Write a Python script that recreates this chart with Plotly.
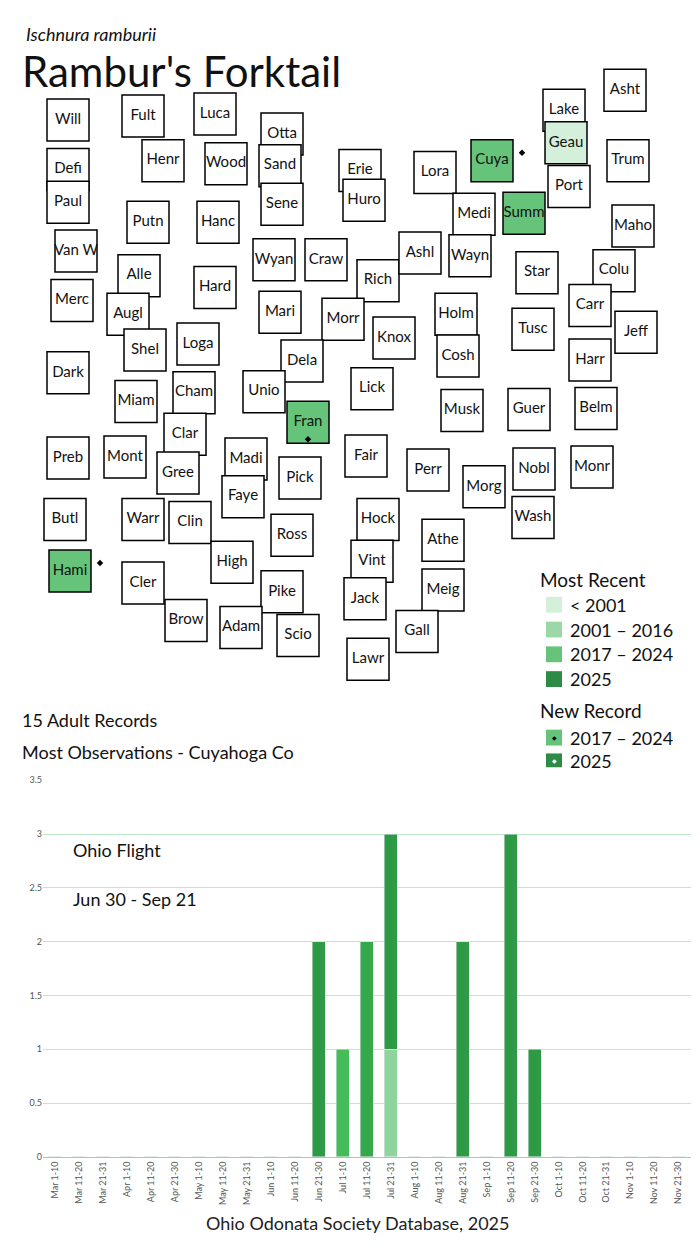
import plotly.graph_objects as go

# ---- map data (approximate tile-map positions of Ohio counties) ----
counties = ["Will","Fult","Luca","Otta","Defi","Henr","Wood","Sand","Erie","Lora","Cuya","Lake","Asht","Geau","Trum",
 "Paul","Putn","Hanc","Sene","Huro","Medi","Summ","Port","Maho","Van W","Alle","Hard","Wyan","Craw","Rich","Ashl","Wayn",
 "Star","Colu","Merc","Augl","Mari","Morr","Knox","Holm","Tusc","Carr","Jeff","Shel","Loga","Dela","Cosh","Harr","Dark",
 "Cham","Unio","Lick","Musk","Guer","Belm","Miam","Clar","Fran","Madi","Fair","Perr","Nobl","Monr","Preb","Mont","Gree",
 "Faye","Pick","Morg","Butl","Warr","Clin","Hock","Wash","Ross","Athe","Hami","Cler","High","Vint","Meig","Pike","Jack",
 "Brow","Adam","Scio","Gall","Lawr"]
cx = [60,135,207,274,60,155,218,272,352,427,484,556,617,558,620,60,140,210,274,356,466,516,561,625,68,131,207,266,318,370,412,462,
 529,606,64,120,272,335,386,448,525,582,628,137,190,294,450,582,60,186,256,364,454,521,588,128,177,300,238,358,420,526,584,60,117,170,
 235,292,476,57,135,182,370,525,284,435,62,135,224,364,435,274,357,178,233,290,409,360]
cy = [117,113,111,131,167,158,161,163,168,170,158,107,87,140,158,200,220,220,202,198,212,211,184,224,249,274,286,258,258,279,251,254,
 271,269,299,313,311,318,337,313,328,304,331,349,343,360,355,359,372,392,391,388,410,409,408,401,434,422,459,456,470,469,467,458,457,473,
 497,478,487,520,520,523,520,518,536,541,572,584,563,562,591,593,600,622,629,637,633,661]
most_recent = {"Geau": "< 2001", "Cuya": "2017 – 2024", "Summ": "2017 – 2024", "Fran": "2017 – 2024", "Hami": "2017 – 2024"}
new_record = ["Cuya", "Fran", "Hami"]
period_colors = {"< 2001": "#d4f0da", "2001 – 2016": "#9ad9a6", "2017 – 2024": "#66c47a", "2025": "#2e8b45"}

# ---- flight data ----
periods = ["Mar 1-10","Mar 11-20","Mar 21-31","Apr 1-10","Apr 11-20","Apr 21-30","May 1-10","May 11-20","May 21-31",
 "Jun 1-10","Jun 11-20","Jun 21-30","Jul 1-10","Jul 11-20","Jul 21-31","Aug 1-10","Aug 11-20","Aug 21-31",
 "Sep 1-10","Sep 11-20","Sep 21-30","Oct 1-10","Oct 11-20","Oct 21-31","Nov 1-10","Nov 11-20","Nov 21-30"]
older = [0,0,0,0,0,0,0,0,0,0,0,0,0,0,1,0,0,0,0,0,0,0,0,0,0,0,0]
recent = [0,0,0,0,0,0,0,0,0,0,0,2,1,2,2,0,0,2,0,3,1,0,0,0,0,0,0]
recent_colors = ["#2f9a46"]*27
recent_colors[12] = "#45bb5a"; recent_colors[13] = "#36a84c"

FONT = "Lato"
OFF = 10  # map drawn 10px higher than the overlay text coordinates
fig = go.Figure()

fills = [period_colors[most_recent[c]] if c in most_recent else "white" for c in counties]
fig.add_trace(go.Scatter(x=cx, y=cy, mode="markers+text", text=counties, textfont=dict(family=FONT, size=15, color="#111"),
    marker=dict(symbol="square", size=42, color=fills, line=dict(color="black", width=1.5)),
    xaxis="x2", yaxis="y2", hoverinfo="text", showlegend=False))
fig.add_trace(go.Scatter(x=[cx[counties.index(c)] + (30 if c != "Fran" else 0) for c in new_record],
    y=[cy[counties.index(c)] + (-8 if c != "Fran" else 17) for c in new_record], mode="markers",
    marker=dict(symbol="diamond", size=5, color="black"), xaxis="x2", yaxis="y2", showlegend=False, hoverinfo="skip"))

fig.add_trace(go.Bar(x=periods, y=older, marker_color="#8fd49c", showlegend=False))
fig.add_trace(go.Bar(x=periods, y=recent, marker_color=recent_colors, showlegend=False))

shapes, ann = [], []
def txt(x, y, s, size, **kw):
    ann.append(dict(x=x, y=y+OFF, xref="x2", yref="y2", text=s, showarrow=False, xanchor=kw.pop("xanchor", "left"),
                    font=dict(family=FONT, size=size, color=kw.pop("color", "#111")), **kw))
txt(16, 20, "<i>Ischnura ramburii</i>", 18)
txt(12, 58, "Rambur's Forktail", 42)
txt(530, 571, "Most Recent", 19)
for i, (k, col) in enumerate(period_colors.items()):
    y = 596 + i*25
    shapes.append(dict(type="rect", xref="x2", yref="y2", x0=538, x1=554, y0=y-8+OFF, y1=y+8+OFF, fillcolor=col, line_width=0))
    txt(560, y, k, 18)
txt(530, 703, "New Record", 19)
for i, (k, col) in enumerate([("2017 – 2024", "#66c47a"), ("2025", "#2e8b45")]):
    y = 730 + i*24
    shapes.append(dict(type="rect", xref="x2", yref="y2", x0=538, x1=554, y0=y-8+OFF, y1=y+8+OFF, fillcolor=col, line_width=0))
    ann.append(dict(x=546, y=y+OFF, xref="x2", yref="y2", text="◆", showarrow=False, font=dict(size=6, color="black" if i == 0 else "white")))
    txt(560, y, k, 18)
txt(12, 712, "15 Adult Records", 18)
txt(12, 745, "Most Observations - Cuyahoga Co", 18)
ann += [dict(x=0.09, y=0.315, xref="paper", yref="paper", text="Ohio Flight", showarrow=False, xanchor="left",
             font=dict(family=FONT, size=18, color="#111")),
        dict(x=0.09, y=0.275, xref="paper", yref="paper", text="Jun 30 - Sep 21", showarrow=False, xanchor="left",
             font=dict(family=FONT, size=18, color="#111")),
        dict(x=0.5, y=0.014, xref="paper", yref="paper", text="Ohio Odonata Society Database, 2025", showarrow=False,
             font=dict(family=FONT, size=18, color="#222"))]

fig.update_layout(width=700, height=1250, margin=dict(l=0, r=0, t=0, b=0), paper_bgcolor="white", plot_bgcolor="white",
    barmode="stack", bargap=0.45, shapes=shapes, annotations=ann,
    xaxis=dict(domain=[0.05, 0.975], tickangle=-90, tickfont=dict(family=FONT, size=9, color="#555"), showgrid=False,
               linecolor="#bbb", ticks=""),
    yaxis=dict(domain=[0.0776, 0.3816], range=[0, 3.5], dtick=0.5, tickfont=dict(family=FONT, size=9, color="#555"),
               gridcolor="#bfe8c8", zeroline=False),
    xaxis2=dict(domain=[0, 1], range=[0, 700], visible=False),
    yaxis2=dict(domain=[0.392, 1], range=[770, 10], visible=False))
fig.write_html("out.html")
